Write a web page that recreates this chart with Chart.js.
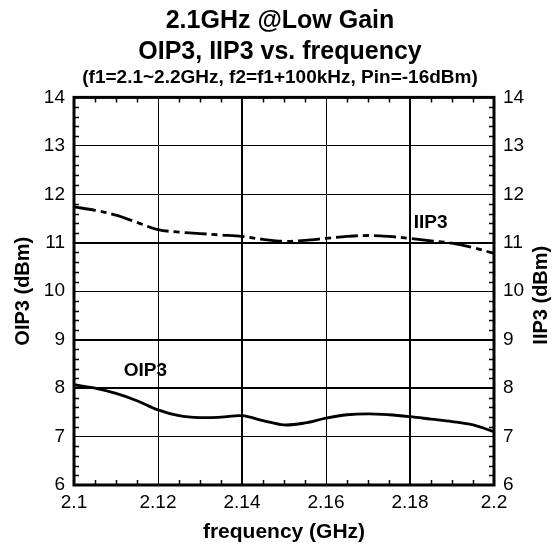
<!DOCTYPE html>
<html>
<head>
<meta charset="utf-8">
<script src="https://cdn.jsdelivr.net/npm/chart.js@4.4.1/dist/chart.umd.min.js"></script>
<style>
  html, body { margin: 0; padding: 0; background: #fff; }
</style>
</head>
<body>
<canvas id="chart" width="560" height="546"></canvas>
<script>
// 频率 (GHz)
const freq = [2.100, 2.105, 2.110, 2.115, 2.120, 2.125, 2.130, 2.135, 2.140, 2.145, 2.150,
              2.155, 2.160, 2.165, 2.170, 2.175, 2.180, 2.185, 2.190, 2.195, 2.200];
// OIP3 (dBm)
const oip3 = [8.07, 8.00, 7.89, 7.74, 7.55, 7.43, 7.39, 7.40, 7.43, 7.33, 7.24,
              7.28, 7.38, 7.45, 7.47, 7.45, 7.41, 7.36, 7.31, 7.24, 7.10];
// IIP3 (dBm)
const iip3 = [11.74, 11.67, 11.57, 11.42, 11.27, 11.22, 11.19, 11.16, 11.13, 11.07, 11.03,
              11.05, 11.09, 11.13, 11.15, 11.13, 11.09, 11.04, 10.99, 10.90, 10.78];

// 刻度
const xTicks = [2.1, 2.12, 2.14, 2.16, 2.18, 2.2];
const xTickLabels = ["2.1", "2.12", "2.14", "2.16", "2.18", "2.2"];
const yTicks = [6, 7, 8, 9, 10, 11, 12, 13, 14];
const yTickLabels = ["6", "7", "8", "9", "10", "11", "12", "13", "14"];

// 曲线标签位置 (数据坐标)
const iip3Label = { text: "IIP3", x: 2.1849, y: 11.42 };
const oip3Label = { text: "OIP3", x: 2.1170, y: 8.35 };

const FONT = "'Liberation Sans', Arial, sans-serif";
Chart.defaults.font.family = FONT;
Chart.defaults.color = "#000";

// 边框、内侧小刻度、曲线标签、右侧轴标题
const framePlugin = {
    id: "frame",
    afterDraw(chart) {
        const { ctx, chartArea: a, scales } = chart;
        const x = scales.x, y = scales.y;
        ctx.save();
        ctx.strokeStyle = "#000";
        ctx.lineWidth = 1.5;
        ctx.beginPath();
        for (let k = 1; k < 20; k++) {
            if (k % 4 === 0) continue;
            const px = Math.round(x.getPixelForValue(2.1 + k * 0.005)) + 0.5;
            ctx.moveTo(px, a.top); ctx.lineTo(px, a.top + 5);
            ctx.moveTo(px, a.bottom); ctx.lineTo(px, a.bottom - 5);
        }
        for (let k = 1; k < 40; k++) {
            if (k % 5 === 0) continue;
            const py = Math.round(y.getPixelForValue(6 + k * 0.2)) + 0.5;
            ctx.moveTo(a.left, py); ctx.lineTo(a.left + 5, py);
            ctx.moveTo(a.right, py); ctx.lineTo(a.right - 5, py);
        }
        ctx.stroke();

        ctx.lineWidth = 3;
        ctx.strokeRect(a.left, a.top, a.right - a.left, a.bottom - a.top);

        ctx.fillStyle = "#000";
        ctx.font = "bold 19px " + FONT;
        ctx.textAlign = "center";
        ctx.textBaseline = "middle";
        [iip3Label, oip3Label].forEach(l => {
            ctx.fillText(l.text, x.getPixelForValue(l.x), y.getPixelForValue(l.y));
        });

        ctx.font = "bold 20px " + FONT;
        ctx.translate(541, (a.top + a.bottom) / 2 + 4);
        ctx.rotate(-Math.PI / 2);
        ctx.fillText("IIP3 (dBm)", 0, 0);
        ctx.restore();
    }
};

const thickX = [2.14, 2.18];
const thickY = [8, 9, 11];

new Chart(document.getElementById("chart"), {
    type: "line",
    data: {
        datasets: [
            {
                label: "OIP3",
                data: freq.map((f, i) => ({ x: f, y: oip3[i] })),
                borderColor: "#000",
                borderWidth: 2.8,
                pointRadius: 0,
                tension: 0.35,
                yAxisID: "y"
            },
            {
                label: "IIP3",
                data: freq.map((f, i) => ({ x: f, y: iip3[i] })),
                borderColor: "#000",
                borderWidth: 2.8,
                borderDash: [22, 5, 6, 5],
                pointRadius: 0,
                tension: 0.35,
                yAxisID: "y2"
            }
        ]
    },
    options: {
        responsive: false,
        animation: false,
        devicePixelRatio: 1,
        layout: { padding: 0 },
        plugins: {
            legend: { display: false },
            tooltip: { enabled: false },
            title: {
                display: true,
                text: ["2.1GHz @Low Gain", "OIP3, IIP3 vs. frequency"],
                font: { size: 25, weight: "bold", lineHeight: 1.25 },
                padding: { top: 5, bottom: 0 }
            },
            subtitle: {
                display: true,
                text: "(f1=2.1~2.2GHz, f2=f1+100kHz, Pin=-16dBm)",
                font: { size: 19, weight: "bold", lineHeight: 1.1 },
                padding: { top: 0, bottom: 9 }
            }
        },
        scales: {
            x: {
                type: "linear",
                min: 2.1,
                max: 2.2,
                afterBuildTicks: s => { s.ticks = xTicks.map(v => ({ value: v })); },
                afterFit: s => { s.height = 61; },
                ticks: {
                    callback: (v, i) => xTickLabels[i],
                    font: { size: 19 },
                    padding: 6,
                    maxRotation: 0
                },
                grid: {
                    color: "#000",
                    lineWidth: c => thickX.includes(c.tick && c.tick.value) ? 2 : 1,
                    drawTicks: false
                },
                border: { display: false },
                title: {
                    display: true,
                    text: "frequency (GHz)",
                    font: { size: 21, weight: "bold" },
                    padding: { top: 0, bottom: 1 }
                }
            },
            y: {
                position: "left",
                min: 6,
                max: 14,
                afterBuildTicks: s => { s.ticks = yTicks.map(v => ({ value: v })); },
                afterFit: s => { s.width = 74; },
                ticks: {
                    callback: (v, i) => yTickLabels[i],
                    font: { size: 19 },
                    padding: 9
                },
                grid: {
                    color: "#000",
                    lineWidth: c => thickY.includes(c.tick && c.tick.value) ? 2 : 1,
                    drawTicks: false
                },
                border: { display: false },
                title: {
                    display: true,
                    text: "OIP3 (dBm)",
                    font: { size: 20, weight: "bold" },
                    padding: { top: 11, bottom: 0 }
                }
            },
            y2: {
                position: "right",
                min: 6,
                max: 14,
                afterBuildTicks: s => { s.ticks = yTicks.map(v => ({ value: v })); },
                afterFit: s => { s.width = 66; },
                ticks: {
                    callback: (v, i) => yTickLabels[i],
                    font: { size: 19 },
                    padding: 9
                },
                grid: { drawOnChartArea: false, drawTicks: false },
                border: { display: false }
            }
        }
    },
    plugins: [framePlugin]
});
</script>
</body>
</html>
